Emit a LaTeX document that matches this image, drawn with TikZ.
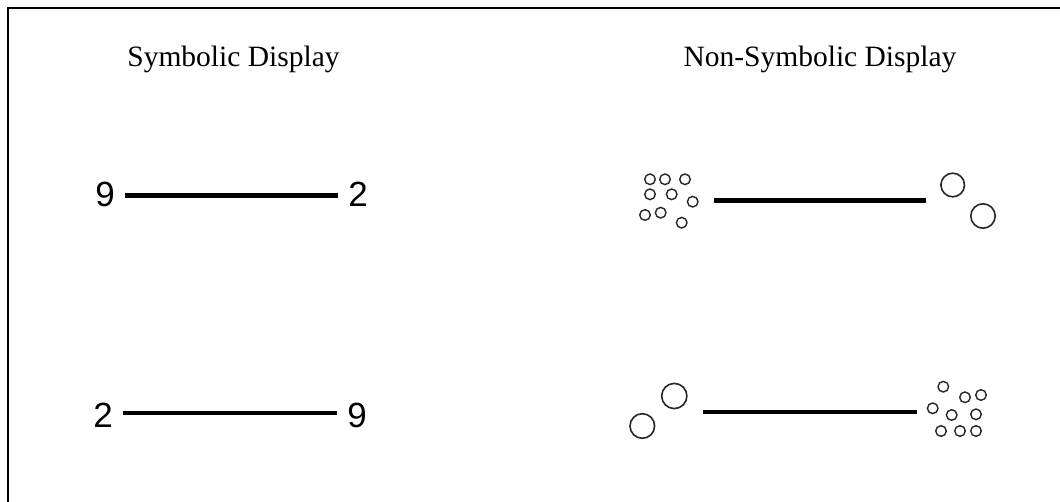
\documentclass[tikz,border=0pt]{standalone}
\usepackage{fontspec}
\setmainfont{Liberation Serif}
\newfontfamily\digitfont{Liberation Sans}
\begin{document}
\begin{tikzpicture}[x=1pt,y=-1pt,
  title/.style={anchor=base,inner sep=0pt,font=\fontsize{29.5}{34}\selectfont},
  digit/.style={anchor=base,inner ysep=0pt,inner xsep=10pt,font=\digitfont\fontsize{35}{40}\selectfont},
  thickline/.style={line width=5pt},
  thinline/.style={line width=3.2pt},
  dot/.style={line width=1.4pt,draw=black!85},
  bigdot/.style={line width=1.6pt,draw=black!85}]
\useasboundingbox (0,0) rectangle (1060,502);
% frame
\draw[line width=1.6pt] (8,502) -- (8,8) -- (1060,8);
% titles
\node[title] (t1) at (233.5,67) {Symbolic Display};
\node[title] (t2) at (820,67) {Non-Symbolic Display};
% symbolic
\node[digit] (a9) at (105,207) {9};
\node[digit] (a2) at (358,207) {2};
\draw[thickline] (a9.east |- 0,196) -- (a2.west |- 0,196);
\node[digit] (b2) at (103,427) {2};
\node[digit] (b9) at (357,427) {9};
\draw[thinline] (b2.east |- 0,413) -- (b9.west |- 0,413);
% non-symbolic top
\foreach \x/\y in {650/179.3,665/179.3,685/179.3,650/194.3,671.7/194.3,692.7/201.7,645/215,660.7/212.7,681.7/222.7}
  \draw[dot] (\x,\y) circle (5.3);
\draw[bigdot] (952.7,185) circle (11.8);
\draw[bigdot] (983,216) circle (12.2);
\coordinate (c1) at (714,200.5);
\coordinate (c2) at (926,200.5);
\draw[thickline] (c1) -- (c2);
% non-symbolic bottom
\draw[bigdot] (674.3,396) circle (12.6);
\draw[bigdot] (642.3,426) circle (12.3);
\foreach \x/\y in {943.3/386.7,965/397.3,981/395,932.7/408.3,951.7/415,976/414.3,941/431,960/431,976/431}
  \draw[dot] (\x,\y) circle (5.3);
\coordinate (d1) at (703,412);
\coordinate (d2) at (917,412);
\draw[thinline] (d1) -- (d2);
\end{tikzpicture}
\end{document}
